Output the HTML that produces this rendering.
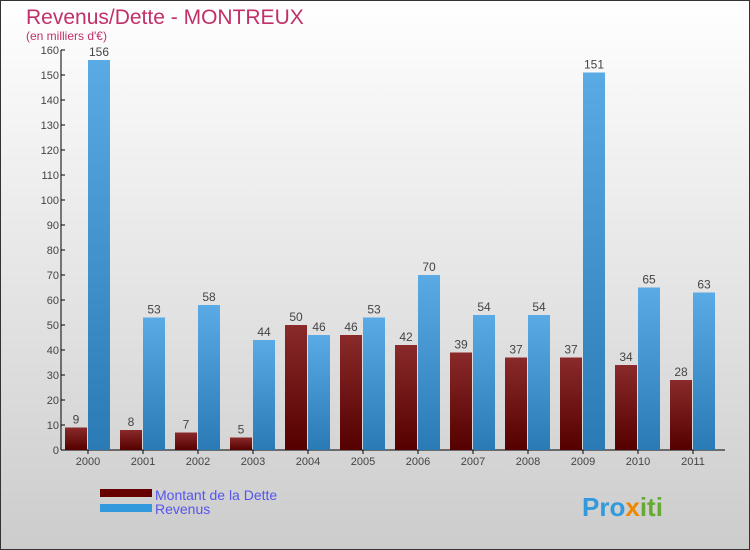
<!DOCTYPE html>
<html><head><meta charset="utf-8"><style>
body{margin:0;}
svg{display:block;font-family:"Liberation Sans",sans-serif;}
</style></head><body>
<svg width="750" height="550" id="chart">
<defs>
<linearGradient id="bg" x1="0" y1="0" x2="0" y2="1"><stop offset="0" stop-color="#ffffff"/><stop offset="1" stop-color="#cccccc"/></linearGradient>
<linearGradient id="gd" x1="0" y1="0" x2="0" y2="1"><stop offset="0" stop-color="#8a2a2a"/><stop offset="1" stop-color="#550000"/></linearGradient>
<linearGradient id="gr" x1="0" y1="0" x2="0" y2="1"><stop offset="0" stop-color="#5aaae6"/><stop offset="1" stop-color="#2a7ab5"/></linearGradient>
</defs>
<rect x="0.5" y="0.5" width="749" height="549" fill="url(#bg)" stroke="#333"/>
<text x="26" y="24" font-size="21" fill="#c0306a">Revenus/Dette - MONTREUX</text>
<text x="26" y="40" font-size="12" fill="#c0306a">(en milliers d'€)</text>
<g id="axes"></g>
<g id="bars"></g>
<rect x="100" y="489" width="52" height="8" fill="#660000"/>
<text x="155" y="500" font-size="14" fill="#5555ee">Montant de la Dette</text>
<rect x="100" y="504" width="52" height="8" fill="#3399dd"/>
<text x="155" y="514" font-size="14" fill="#5555ee">Revenus</text>
<text x="582" y="516" font-size="26" font-weight="bold" fill="#3399dd">Pro<tspan fill="#ee8800">x</tspan><tspan fill="#66aa33">iti</tspan></text>
</svg>
<script>
const years=["2000","2001","2002","2003","2004","2005","2006","2007","2008","2009","2010","2011"];
const dette=[9,8,7,5,50,46,42,39,37,37,34,28];
const revenus=[156,53,58,44,46,53,70,54,54,151,65,63];
const yTicks=[0,10,20,30,40,50,60,70,80,90,100,110,120,130,140,150,160];
const NS="http://www.w3.org/2000/svg";
const x0=61,x1=725,y0=450,yTop=50,yMax=160,step=55;
function y(v){return y0-(v/yMax)*(y0-yTop);}
function gx(i){return x0+4+i*step;}
function mk(t,a,p){const e=document.createElementNS(NS,t);for(const k in a)e.setAttribute(k,a[k]);p.appendChild(e);return e;}
const ax=document.getElementById('axes'),bg=document.getElementById('bars');
let l=mk('line',{x1:x0,y1:yTop,x2:x0,y2:y0,stroke:'#000'},ax);


l=mk('line',{x1:x0,y1:y0,x2:x1,y2:y0,stroke:'#000'},ax);


yTicks.forEach(v=>{
 const t=mk('line',{x1:x0,y1:y(v),x2:x0+4,y2:y(v),stroke:'#000'},ax);
 
 
 const tx=mk('text',{x:x0-2,y:y(v)+4,'font-size':11,'text-anchor':'end',fill:'#444'},ax);
 tx.textContent=v;
 
 
});
years.forEach((yr,i)=>{
 const t=mk('text',{x:gx(i)+23,y:y0+15,'font-size':11,'text-anchor':'middle',fill:'#444'},ax);
 t.textContent=yr;
 
 
 const tk=mk('line',{x1:gx(i)+23,y1:y0,x2:gx(i)+23,y2:y0+4,stroke:'#000'},ax);
 
 
 [[dette[i],'url(#gd)',0,'bar-dette'],[revenus[i],'url(#gr)',23,'bar-revenus']].forEach(([v,f,o,n])=>{
  const r=mk('rect',{x:gx(i)+o,y:y(v),width:22,height:y0-y(v),fill:f},bg);
  
  
  const lb=mk('text',{x:gx(i)+o+11,y:y(v)-4,'font-size':12,'text-anchor':'middle',fill:'#444'},bg);
  lb.textContent=v;
  
  
 });
});
</script>
</body></html>
